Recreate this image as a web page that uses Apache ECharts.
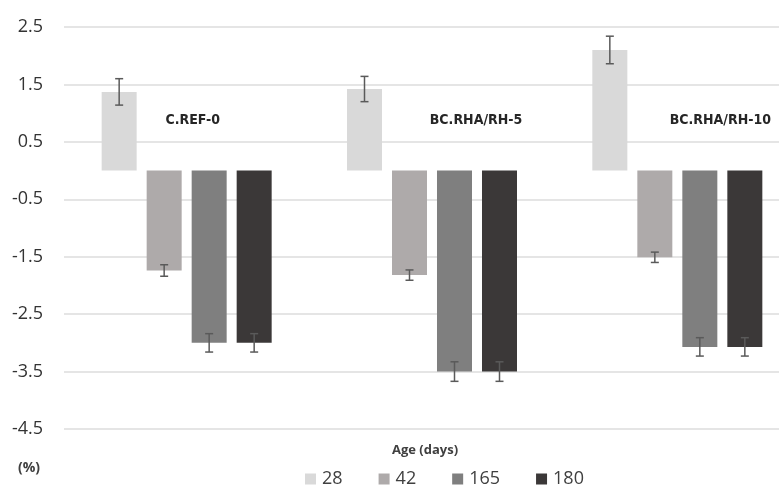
<!DOCTYPE html>
<html>
<head>
<meta charset="utf-8">
<script src="https://cdn.jsdelivr.net/npm/echarts@6/dist/echarts.min.js"></script>
<style>html,body{margin:0;padding:0;background:#fff;}#c{width:779px;height:488px;}</style>
</head>
<body>
<div id="c"></div>
<script>
// ---- data ----
const groups = ['C.REF-0', 'BC.RHA/RH-5', 'BC.RHA/RH-10'];
const ages = ['28', '42', '165', '180'];
const values28 = [1.37, 1.42, 2.10];
const values42 = [-1.74, -1.82, -1.51];
const values165 = [-3.00, -3.50, -3.07];
const values180 = [-3.00, -3.50, -3.07];
const errors28 = [0.23, 0.22, 0.24];
const errors42 = [0.10, 0.09, 0.09];
const errors165 = [0.16, 0.17, 0.16];
const errors180 = [0.16, 0.17, 0.16];
const yTicks = ['2.5', '1.5', '0.5', '-0.5', '-1.5', '-2.5', '-3.5', '-4.5'];
const groupLabelValue = 0.88;

// ---- style ----
const colors = ['#d9d9d9', '#aeaaaa', '#7f7f7f', '#3b3838'];
const BAR_W = 35, BAR_GAP = 10;
const labelOffsets = [6, 44, 43];
const seriesValues = [values28, values42, values165, values180];
const seriesErrors = [errors28, errors42, errors165, errors180];

const chart = echarts.init(document.getElementById('c'));

const series = [];
ages.forEach((a, i) => {
  series.push({
    name: a, type: 'bar', data: seriesValues[i],
    barWidth: BAR_W, barGap: (BAR_GAP / BAR_W * 100).toFixed(2) + '%',
    itemStyle: { color: colors[i] }, z: 2
  });
});
ages.forEach((a, i) => {
  const off = (i - 1.5) * (BAR_W + BAR_GAP);
  series.push({
    type: 'custom', name: a + '_err', z: 5, silent: true,
    data: seriesValues[i].map((v, k) => [k, v - seriesErrors[i][k], v + seriesErrors[i][k]]),
    renderItem: function (params, api) {
      const lo = api.coord([api.value(0), api.value(1)]);
      const hi = api.coord([api.value(0), api.value(2)]);
      const x = lo[0] + off;
      const cw = 4;
      const st = { stroke: '#5a5a5a', lineWidth: 1.5 };
      return { type: 'group', children: [
        { type: 'line', shape: { x1: x, y1: lo[1], x2: x, y2: hi[1] }, style: st },
        { type: 'line', shape: { x1: x - cw, y1: lo[1], x2: x + cw, y2: lo[1] }, style: st },
        { type: 'line', shape: { x1: x - cw, y1: hi[1], x2: x + cw, y2: hi[1] }, style: st }
      ]};
    }
  });
});

chart.setOption({
  animation: false,
  backgroundColor: '#fff',
  grid: { left: 64, width: 736, top: 27, height: 402, outerBoundsMode: 'none', containLabel: false },
  xAxis: {
    type: 'category', data: groups,
    axisLine: { show: false, onZero: false }, axisTick: { show: false }, axisLabel: { show: false },
    splitLine: { show: false }
  },
  yAxis: {
    type: 'value', min: -4.5, max: 2.5, interval: 1,
    axisLine: { show: false }, axisTick: { show: false },
    axisLabel: {
      margin: 21, fontSize: 18, color: '#333333', fontFamily: 'Open Sans',
      formatter: v => yTicks.find(t => Math.abs(parseFloat(t) - v) < 1e-6) || ''
    },
    splitLine: { lineStyle: { color: '#dcdcdc', width: 1.5 } }
  },
  legend: {
    data: ages, left: 305, top: 470, padding: 0, icon: 'rect', itemWidth: 11, itemHeight: 11,
    itemGap: 36, textStyle: { fontSize: 18, color: '#404040', fontFamily: 'Open Sans', padding: [0, 0, 0, 1] }
  },
  series: series
});

const graphics = groups.map((g, k) => {
  const p = chart.convertToPixel({ xAxisIndex: 0, yAxisIndex: 0 }, [k, groupLabelValue]);
  return {
    type: 'text', x: p[0] + labelOffsets[k], y: p[1],
    style: { text: g, fontSize: 14, fontWeight: 'bold', fill: '#262626',
      fontFamily: "'Liberation Sans Narrow', 'DejaVu Sans Condensed', 'Liberation Sans', sans-serif",
      textAlign: 'center', textVerticalAlign: 'middle' }
  };
});
graphics.push({ type: 'text', x: 425, y: 450, style: { text: 'Age (days)', fontSize: 13, fontWeight: 'bold', fill: '#404040', fontFamily: 'Open Sans', textAlign: 'center', textVerticalAlign: 'middle' } });
graphics.push({ type: 'text', x: 29, y: 468, style: { text: '(%)', fontSize: 14, fontWeight: 'bold', fill: '#404040', fontFamily: 'Open Sans', textAlign: 'center', textVerticalAlign: 'middle' } });
chart.setOption({ graphic: graphics });
</script>
</body>
</html>
